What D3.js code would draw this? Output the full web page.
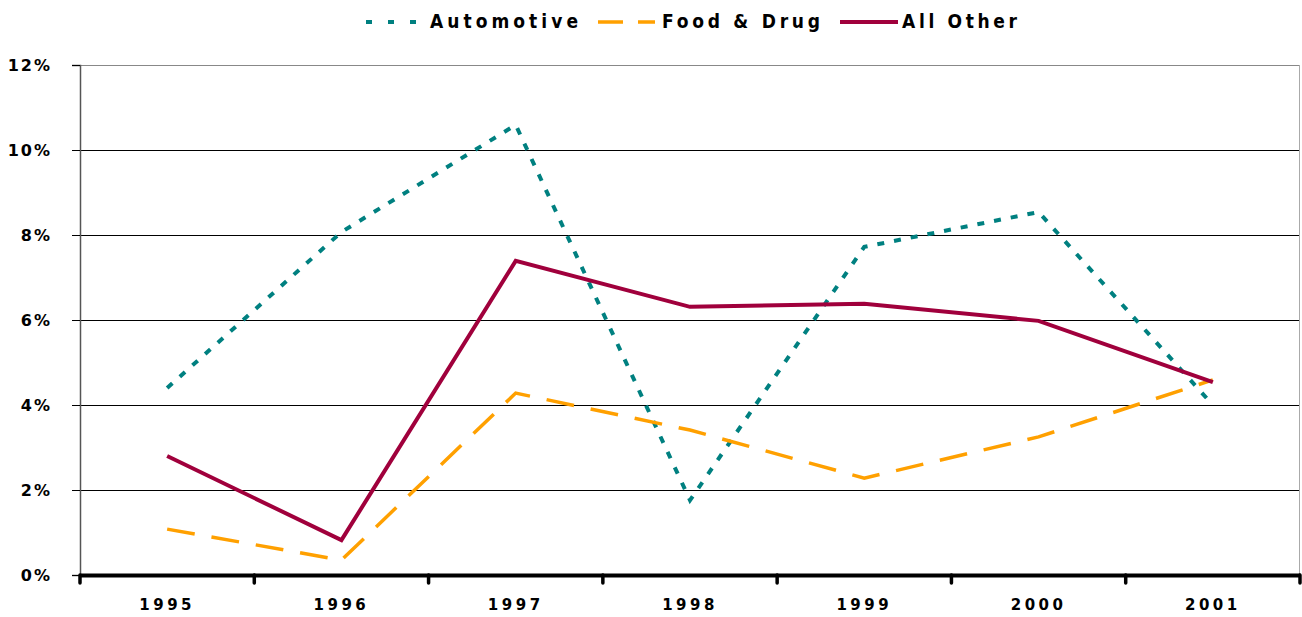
<!DOCTYPE html>
<html>
<head>
<meta charset="utf-8">
<script src="https://cdn.jsdelivr.net/npm/d3@7"></script>
<style>
  body { margin: 0; background: #fff; }
  svg text { font-family: "DejaVu Sans", Verdana, sans-serif; font-weight: bold; }
</style>
</head>
<body>
<svg id="chart" width="1302" height="617"></svg>
<script>
const years = ['1995', '1996', '1997', '1998', '1999', '2000', '2001'];
const automotive = [4.4, 8.07, 10.59, 1.76, 7.72, 8.54, 4.0];
const foodDrug = [1.08, 0.35, 4.28, 3.41, 2.28, 3.25, 4.59];
const allOther = [2.8, 0.82, 7.39, 6.31, 6.38, 5.98, 4.54];
const yTicks = [0, 2, 4, 6, 8, 10, 12];

const series = [
  { name: 'Automotive', values: automotive, color: '#008080', dash: '7,10', width: 4 },
  { name: 'Food & Drug', values: foodDrug, color: '#ffa000', dash: '28,17', width: 3.5 },
  { name: 'All Other', values: allOther, color: '#a0003c', dash: null, width: 4 }
];

const svg = d3.select('#chart');
const margin = { top: 65, right: 2, bottom: 42, left: 80 };
const width = 1302 - margin.left - margin.right;
const height = 617 - margin.top - margin.bottom;

const x = d3.scaleBand().domain(years).range([0, width]);
const y = d3.scaleLinear().domain([0, 12]).range([height, 0]);

const g = svg.append('g').attr('transform', `translate(${margin.left},${margin.top})`);

// gridlines
g.selectAll('.grid')
  .data(yTicks.filter(d => d > 0))
  .enter()
  .append('line')
  .attr('x1', 0)
  .attr('x2', width)
  .attr('y1', d => y(d) + 0.5)
  .attr('y2', d => y(d) + 0.5)
  .attr('stroke', d => d === 12 ? '#888' : '#000')
  .attr('stroke-width', 1)
  .attr('shape-rendering', 'crispEdges');

// right border
g.append('line')
  .attr('x1', width - 0.5).attr('x2', width - 0.5)
  .attr('y1', 0).attr('y2', height)
  .attr('stroke', '#aaa')
  .attr('shape-rendering', 'crispEdges');

// y axis
const yAxis = g.append('g').call(
  d3.axisLeft(y).tickValues(yTicks).tickSize(8).tickFormat(d => d + '%')
);
yAxis.select('.domain').attr('stroke', '#555').attr('stroke-width', 1.5);
yAxis.selectAll('.tick line').attr('stroke', '#000');
yAxis.selectAll('.tick text')
  .attr('x', -28)
  .attr('font-size', 16)
  .attr('letter-spacing', 2)
  .attr('fill', '#000');

// x axis
const xAxis = g.append('g')
  .attr('transform', `translate(0,${height})`)
  .call(d3.axisBottom(x).tickSize(0));
xAxis.select('.domain').attr('stroke', '#000').attr('stroke-width', 4);
xAxis.selectAll('.tick text')
  .attr('dy', 0)
  .attr('y', 35)
  .attr('font-size', 15)
  .attr('letter-spacing', 3.5)
  .attr('fill', '#000');

// x tick marks at band boundaries
const bounds = years.map(d => x(d)).concat([width]);
g.selectAll('.xtick')
  .data(bounds)
  .enter()
  .append('line')
  .attr('x1', d => d).attr('x2', d => d)
  .attr('y1', height).attr('y2', height + 8)
  .attr('stroke', '#000')
  .attr('stroke-width', 3.5)
  .attr('stroke-linecap', 'round');

// lines
const line = d3.line()
  .x((d, i) => x(years[i]) + x.bandwidth() / 2)
  .y(d => y(d));

series.forEach(s => {
  g.append('path')
    .datum(s.values)
    .attr('fill', 'none')
    .attr('stroke', s.color)
    .attr('stroke-width', s.width)
    .attr('stroke-dasharray', s.dash)
    .attr('stroke-linejoin', 'miter')
    .attr('d', line);
});

// legend
const legendPos = [
  { x1: 366, x2: 424, tx: 430, tw: 148 },
  { x1: 598, x2: 655, tx: 662, tw: 158 },
  { x1: 840, x2: 898, tx: 902, tw: 115 }
];
const legend = svg.append('g');
series.forEach((s, i) => {
  const p = legendPos[i];
  legend.append('line')
    .attr('x1', p.x1).attr('x2', p.x2)
    .attr('y1', 22).attr('y2', 22)
    .attr('stroke', s.color)
    .attr('stroke-width', s.width)
    .attr('stroke-dasharray', s.dash ? (i === 0 ? '6,16' : '25,15') : null);
  legend.append('text')
    .attr('x', p.tx)
    .attr('y', 28)
    .attr('font-size', 19)
    .attr('textLength', p.tw)
    .attr('lengthAdjust', 'spacing')
    .style('font-family', '"DejaVu Sans Condensed", "DejaVu Sans", sans-serif')
    .text(s.name);
});
</script>
</body>
</html>
